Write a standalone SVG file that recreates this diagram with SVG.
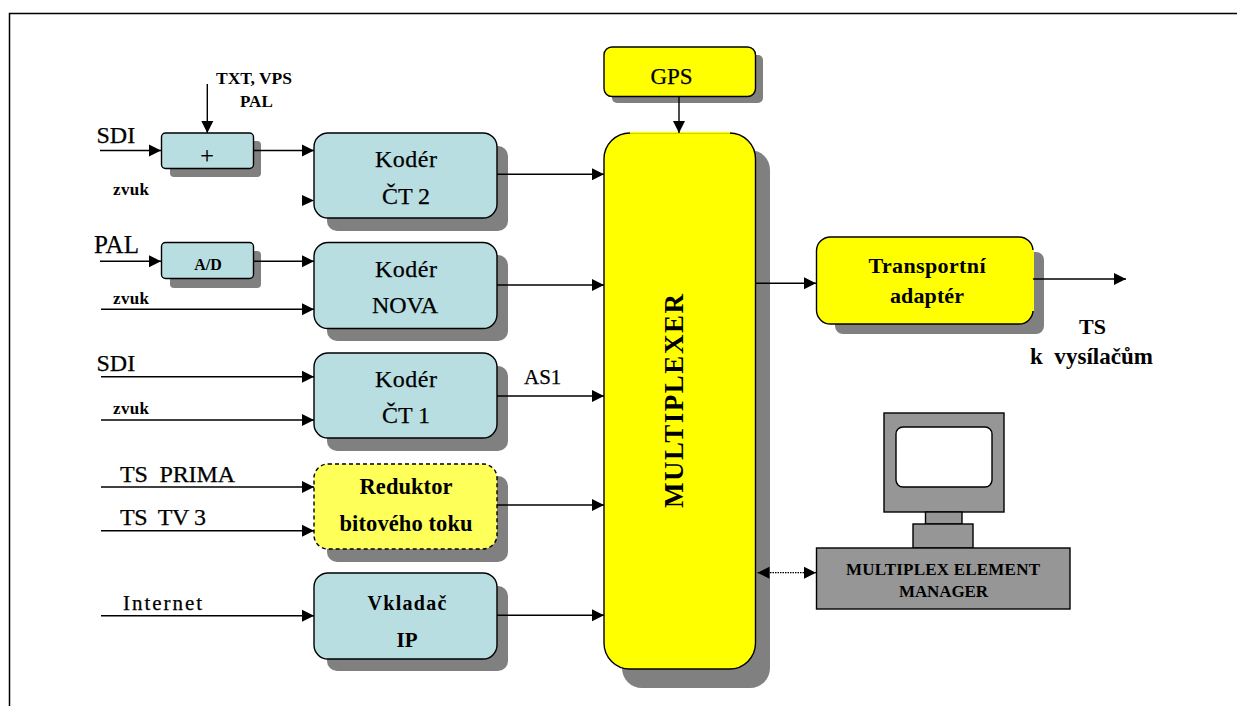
<svg xmlns="http://www.w3.org/2000/svg" width="1237" height="706" viewBox="0 0 1237 706">
<style>
.t{font-family:"Liberation Serif","Times New Roman",serif;fill:#000;font-weight:400;stroke:#000;stroke-width:.25}
.b{font-weight:700;stroke:none}
.m{text-anchor:middle}
.c{fill:#b9dee2;stroke:#000;stroke-width:1.4}
.y{fill:#ff0;stroke:#000;stroke-width:1.4}
.g{fill:#969696;stroke:#000;stroke-width:1.4}
.s{fill:#808080}
.l{stroke:#000;stroke-width:1.4;fill:none;marker-end:url(#a)}
</style>
<defs>
<marker id="a" markerUnits="userSpaceOnUse" markerWidth="13" markerHeight="13" refX="12" refY="6.500" orient="auto"><path d="M0 0.500L12 6.500L0 12.500z" fill="#000"/></marker>
<marker id="as" markerUnits="userSpaceOnUse" markerWidth="13" markerHeight="13" refX="0" refY="6.500" orient="auto"><path d="M12 0.500L0 6.500L12 12.500z" fill="#000"/></marker>
</defs>
<rect width="1237" height="706" fill="#fff"/>
<path d="M9.500 706V13.500H1237" fill="none" stroke="#000" stroke-width="1.500"/>
<g id="sum"><rect class="s" x="170" y="141" width="91" height="36" rx="4"/><rect class="c" x="161.500" y="133" width="92" height="35.500" rx="4"/><text class="t m" x="207" y="163" font-size="24">+</text></g>
<g id="ad"><rect class="s" x="170" y="251" width="91" height="37" rx="4"/><rect class="c" x="161.500" y="242.500" width="92" height="36" rx="4"/><text class="t b m" x="208" y="270" font-size="16">A/D</text></g>
<g id="ct2"><rect class="s" x="327" y="146" width="181" height="85" rx="10"/><rect class="c" x="314" y="133" width="183" height="85" rx="14"/><text class="t m" x="406" y="167" font-size="24" textLength="62">Kodér</text><text class="t m" x="406" y="204" font-size="24">ČT 2</text></g>
<g id="nova"><rect class="s" x="327" y="255" width="181" height="86" rx="10"/><rect class="c" x="314" y="242.500" width="183" height="86" rx="14"/><text class="t m" x="406" y="277" font-size="24" textLength="62">Kodér</text><text class="t m" x="405" y="313" font-size="24" textLength="66">NOVA</text></g>
<g id="ct1"><rect class="s" x="327" y="366" width="181" height="85" rx="10"/><rect class="c" x="314" y="353" width="183" height="85" rx="14"/><text class="t m" x="406" y="387" font-size="24" textLength="62">Kodér</text><text class="t m" x="406" y="423" font-size="24">ČT 1</text></g>
<g id="reduktor"><rect class="s" x="327" y="476" width="181" height="86" rx="10"/><rect x="314" y="464" width="183" height="85" rx="14" fill="#ffff5a" stroke="#000" stroke-width="1.400" stroke-dasharray="4 3"/><text class="t b m" x="406" y="494" font-size="22.500" textLength="93">Reduktor</text><text class="t b m" x="406" y="531" font-size="22.500" textLength="133">bitového toku</text></g>
<g id="vkladac"><rect class="s" x="327" y="586" width="181" height="85" rx="10"/><rect class="c" x="314" y="573" width="183" height="86" rx="14"/><text class="t b m" x="407" y="610" font-size="20" textLength="79">Vkladač</text><text class="t b m" x="407" y="647" font-size="21">IP</text></g>
<g id="gps"><rect class="s" x="612" y="55" width="151" height="48" rx="5"/><rect class="y" x="604" y="47" width="151.500" height="49.500" rx="8"/><text class="t m" x="671.500" y="84" font-size="23">GPS</text></g>
<g id="multiplexer"><rect class="s" x="622" y="150" width="148" height="538" rx="20"/><rect class="y" x="604" y="133" width="151.500" height="536" rx="26"/><path d="M630 132.800H730" stroke="#ff0" stroke-width="2" fill="none"/><text class="t b m" transform="translate(683 401) rotate(-90)" font-size="27" textLength="214">MULTIPLEXER</text></g>
<g id="adapter"><rect class="s" x="835" y="252" width="209" height="82" rx="8"/><rect class="y" x="816.500" y="237" width="216.500" height="87" rx="14"/><path d="M1033 250V311" stroke="#ff0" stroke-width="2" fill="none"/><text class="t b m" x="927" y="273" font-size="22" textLength="117">Transportní</text><text class="t b m" x="927" y="303" font-size="22" textLength="74">adaptér</text></g>
<g id="manager"><rect class="g" x="884" y="413" width="120" height="99"/><rect x="896" y="427" width="96" height="60" rx="7" fill="#fff" stroke="#000" stroke-width="1.400"/><rect class="g" x="925.500" y="512" width="36.500" height="12"/><rect class="g" x="913" y="524" width="60" height="24"/><rect class="g" x="816.500" y="548" width="253.500" height="61"/><text class="t b m" x="943" y="575" font-size="17" textLength="194">MULTIPLEX ELEMENT</text><text class="t b m" x="943.500" y="597" font-size="17" textLength="89">MANAGER</text></g>
<g id="connectors">
<path class="l" d="M100 150.500H161"/>
<path class="l" d="M207.300 84V133"/>
<path class="l" d="M254 150.500H314"/>
<path class="l" d="M100 261.300H161"/>
<path class="l" d="M254 261.300H314"/>
<path class="l" d="M101 309.300H314"/>
<path class="l" d="M101 376.700H314"/>
<path class="l" d="M101 420H314"/>
<path class="l" d="M101 487H314"/>
<path class="l" d="M101 530.700H314"/>
<path class="l" d="M101 615.700H314"/>
<path class="l" d="M497 174.300H604"/>
<path class="l" d="M497 285H604"/>
<path class="l" d="M497 396H604"/>
<path class="l" d="M497 505H604"/>
<path class="l" d="M497 615.300H604"/>
<path class="l" d="M679 97V133"/>
<path class="l" d="M756 283.300H816"/>
<path class="l" d="M1033 279H1126"/>
<path d="M302 195L314 200.500L302 206z" fill="#000"/>
<path d="M757.500 572.700H816" fill="none" stroke="#000" stroke-width="1.300" stroke-dasharray="1.500 1" marker-start="url(#as)" marker-end="url(#a)"/>
</g>
<g id="labels">
<text class="t" x="96.500" y="143" font-size="24">SDI</text>
<text class="t b" x="113" y="195" font-size="17" textLength="36">zvuk</text>
<text class="t b" x="216" y="84" font-size="17.500" textLength="76">TXT, VPS</text>
<text class="t b" x="240" y="107" font-size="17">PAL</text>
<text class="t" x="94" y="253" font-size="25">PAL</text>
<text class="t b" x="113" y="304" font-size="17" textLength="36">zvuk</text>
<text class="t" x="96.500" y="371" font-size="24">SDI</text>
<text class="t b" x="113" y="414" font-size="17" textLength="36">zvuk</text>
<text class="t" x="524" y="384" font-size="21">AS1</text>
<text class="t" x="120" y="482" font-size="24" textLength="115" xml:space="preserve">TS  PRIMA</text>
<text class="t" x="120" y="525" font-size="24" textLength="86" xml:space="preserve">TS  TV 3</text>
<text class="t" x="123" y="610" font-size="21" textLength="79">Internet</text>
<text class="t b m" x="1092.500" y="334" font-size="22">TS</text>
<text class="t b m" x="1091.500" y="364" font-size="23" textLength="123" xml:space="preserve">k  vysílačům</text>
</g>
</svg>
